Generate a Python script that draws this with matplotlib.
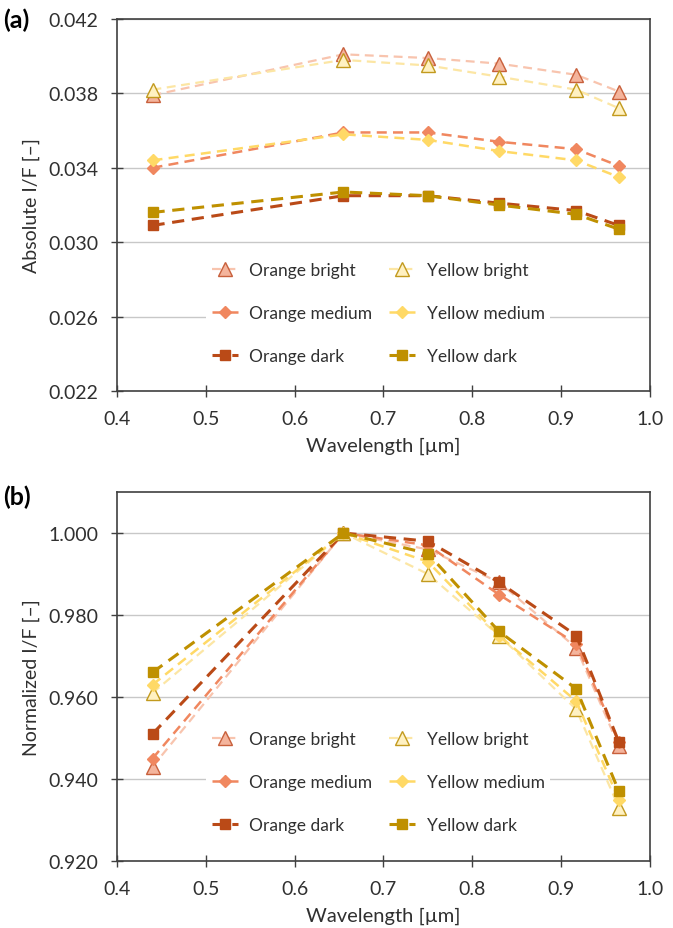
import matplotlib

matplotlib.use("Agg")
import matplotlib.pyplot as plt
import numpy as np

plt.rcParams["font.family"] = ["Lato", "DejaVu Sans"]

wavelength = [0.44, 0.655, 0.75, 0.83, 0.917, 0.965]

labels = ["Orange bright", "Orange medium", "Orange dark",
          "Yellow bright", "Yellow medium", "Yellow dark"]

# absolute I/F
abs_orange_bright = [0.0379, 0.0401, 0.0399, 0.0396, 0.0390, 0.0381]
abs_orange_medium = [0.0340, 0.0359, 0.0359, 0.0354, 0.0350, 0.0341]
abs_orange_dark = [0.0309, 0.0325, 0.0325, 0.0321, 0.0317, 0.0309]
abs_yellow_bright = [0.0382, 0.0398, 0.0395, 0.0389, 0.0382, 0.0372]
abs_yellow_medium = [0.0344, 0.0358, 0.0355, 0.0349, 0.0344, 0.0335]
abs_yellow_dark = [0.0316, 0.0327, 0.0325, 0.0320, 0.0315, 0.0307]

# normalized I/F
norm_orange_bright = [0.943, 1.000, 0.996, 0.988, 0.972, 0.948]
norm_orange_medium = [0.945, 1.000, 0.997, 0.985, 0.973, 0.949]
norm_orange_dark = [0.951, 1.000, 0.998, 0.988, 0.975, 0.949]
norm_yellow_bright = [0.961, 1.000, 0.990, 0.975, 0.957, 0.933]
norm_yellow_medium = [0.963, 1.000, 0.993, 0.975, 0.959, 0.935]
norm_yellow_dark = [0.966, 1.000, 0.995, 0.976, 0.962, 0.937]

absolute = [abs_orange_bright, abs_orange_medium, abs_orange_dark,
            abs_yellow_bright, abs_yellow_medium, abs_yellow_dark]
normalized = [norm_orange_bright, norm_orange_medium, norm_orange_dark,
              norm_yellow_bright, norm_yellow_medium, norm_yellow_dark]

# (line colour, marker, face colour, edge colour, marker size, line width)
styles = [
    ("#F8C4AE", "^", "#F4B49C", "#C8603C", 10, 1.6),
    ("#F0875F", "D", "#F0875F", "#F0875F", 6.5, 1.8),
    ("#BA4A17", "s", "#BA4A17", "#BA4A17", 7.5, 2.2),
    ("#FCE6A4", "^", "#FFF1C2", "#C29A1E", 10, 1.6),
    ("#FFD966", "D", "#FFD966", "#FFD966", 6.5, 1.8),
    ("#BF9000", "s", "#BF9000", "#BF9000", 7.5, 2.2),
]

TEXT = "#303030"


def draw(ax, data, ylim, yticks, ylabel, legend_y):
    for vals, lab, (lc, mk, fc, ec, ms, lw) in zip(data, labels, styles):
        ax.plot(wavelength, vals, color=lc, lw=lw, ls=(0, (4, 2.5)),
                marker=mk, markersize=ms, markerfacecolor=fc,
                markeredgecolor=ec, markeredgewidth=1.0, label=lab, zorder=3)
    xt = np.arange(0.4, 1.01, 0.1)
    ax.set_xlim(0.4, 1.0)
    ax.set_ylim(*ylim)
    ax.set_xticks(xt)
    ax.set_xticklabels([f"{v:.1f}" for v in xt])
    ax.set_yticks(yticks)
    ax.set_yticklabels([f"{v:.3f}" for v in yticks])
    ax.yaxis.grid(True, color="#C8C8C8", lw=1.0, zorder=0)
    ax.set_axisbelow(True)
    for s in ax.spines.values():
        s.set_color("#404040")
        s.set_linewidth(1.2)
    ax.tick_params(direction="inout", length=9, width=1.0, color="#404040",
                   labelsize=14, labelcolor=TEXT)
    ax.tick_params(axis="x", pad=9)
    ax.tick_params(axis="y", pad=9)
    ax.set_xlabel("Wavelength [µm]", fontsize=14.5, color=TEXT, labelpad=7)
    ax.set_ylabel(ylabel, fontsize=14, color=TEXT, labelpad=6)
    leg = ax.legend(ncol=2, loc="center", bbox_to_anchor=(0.49, legend_y),
                    frameon=True, framealpha=1.0, edgecolor="none",
                    fontsize=12.5, handlelength=1.5, labelspacing=1.55,
                    columnspacing=1.0, handletextpad=0.65, borderpad=0.3)
    leg.get_frame().set_facecolor("white")
    for t in leg.get_texts():
        t.set_color(TEXT)
    leg.set_zorder(2)
    return ax


def main() -> None:
    fig = plt.figure(figsize=(6.73, 9.29), dpi=100)
    ax1 = fig.add_axes([0.1738, 0.578, 0.792, 0.4005])
    ax2 = fig.add_axes([0.1738, 0.0721, 0.792, 0.3972])

    draw(ax1, absolute, (0.022, 0.042), np.arange(0.022, 0.0421, 0.004),
         "Absolute I/F [–]", 0.21)
    draw(ax2, normalized, (0.92, 1.01), np.arange(0.92, 1.001, 0.02),
         "Normalized I/F [–]", 0.214)

    fig.text(0.004, 0.978, "(a)", fontsize=18, fontweight="bold",
             va="center", color="black")
    fig.text(0.004, 0.465, "(b)", fontsize=18, fontweight="bold",
             va="center", color="black")

    fig.savefig("out.png", dpi=100)


if __name__ == "__main__":
    main()
